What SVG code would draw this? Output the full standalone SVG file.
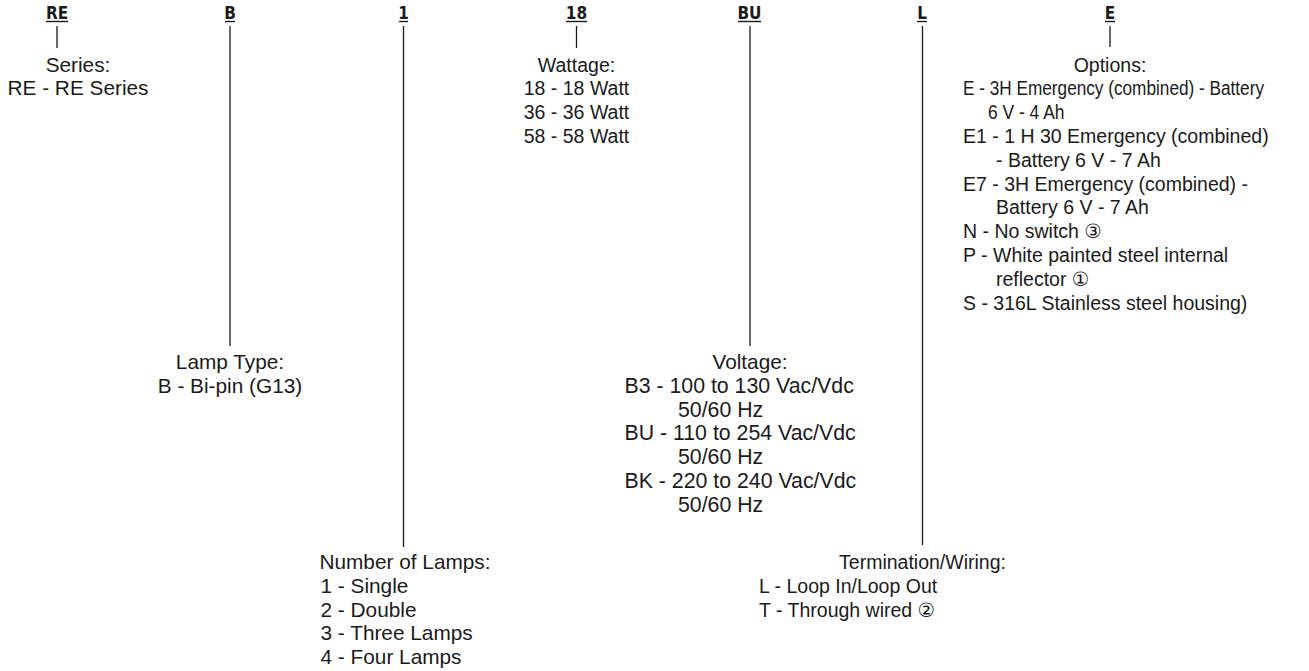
<svg xmlns="http://www.w3.org/2000/svg" width="1309" height="671" viewBox="0 0 1309 671">
<style>
.code{font-family:"Liberation Sans Narrow","DejaVu Sans Condensed","Liberation Sans",sans-serif;font-weight:bold;font-size:17px;fill:#1a1a1a;text-anchor:middle}
.t{font-family:"Liberation Sans","DejaVu Sans",sans-serif;font-size:19.5px;fill:#1a1a1a}
.b{font-size:20.8px}
.v{font-size:21.3px}
.c{text-anchor:middle}
.ul{stroke:#1a1a1a;stroke-width:1.4}
.ln{stroke:#1a1a1a;stroke-width:1.3;fill:none}
</style>
<rect width="1309" height="671" fill="#ffffff"/>
<g id="codes">
<text class="code" x="57" y="19">RE</text><line class="ul" x1="46" y1="21.5" x2="68" y2="21.5"/>
<text class="code" x="230" y="19">B</text><line class="ul" x1="225" y1="21.5" x2="235" y2="21.5"/>
<text class="code" x="403.5" y="19">1</text><line class="ul" x1="399" y1="21.5" x2="408" y2="21.5"/>
<text class="code" x="576.5" y="19">18</text><line class="ul" x1="566" y1="21.5" x2="587" y2="21.5"/>
<text class="code" x="749.5" y="19">BU</text><line class="ul" x1="738" y1="21.5" x2="761" y2="21.5"/>
<text class="code" x="922" y="19">L</text><line class="ul" x1="917" y1="21.5" x2="927" y2="21.5"/>
<text class="code" x="1110" y="19">E</text><line class="ul" x1="1105" y1="21.5" x2="1115" y2="21.5"/>
</g>
<g id="connectors">
<line class="ln" x1="57" y1="26" x2="57" y2="48"/>
<line class="ln" x1="230" y1="26" x2="230" y2="346"/>
<line class="ln" x1="403.5" y1="26" x2="403.5" y2="547"/>
<line class="ln" x1="576.5" y1="26" x2="576.5" y2="48"/>
<line class="ln" x1="750" y1="26" x2="750" y2="346"/>
<line class="ln" x1="922.5" y1="26" x2="922.5" y2="545"/>
<line class="ln" x1="1110" y1="26" x2="1110" y2="47"/>
</g>
<g id="series">
<text class="t b c" x="78" y="71.5">Series:</text>
<text class="t b c" x="78" y="95.3">RE - RE Series</text>
</g>
<g id="lamp-type">
<text class="t b c" x="230" y="369.3">Lamp Type:</text>
<text class="t b c" x="230" y="393">B - Bi-pin (G13)</text>
</g>
<g id="number-of-lamps">
<text class="t b c" x="405" y="569">Number of Lamps:</text>
<text class="t b" x="320.5" y="592.7">1 - Single</text>
<text class="t b" x="320.5" y="616.5">2 - Double</text>
<text class="t b" x="320.5" y="640.2">3 - Three Lamps</text>
<text class="t b" x="320.5" y="664">4 - Four Lamps</text>
</g>
<g id="wattage">
<text class="t c" x="576.5" y="71.5">Wattage:</text>
<text class="t c" x="576.5" y="95.3">18 - 18 Watt</text>
<text class="t c" x="576.5" y="119">36 - 36 Watt</text>
<text class="t c" x="576.5" y="142.7">58 - 58 Watt</text>
</g>
<g id="voltage">
<text class="t b c" x="750" y="369.3">Voltage:</text>
<text class="t v" x="624.5" y="393">B3 - 100 to 130 Vac/Vdc</text>
<text class="t v" x="678" y="416.7">50/60 Hz</text>
<text class="t v" x="624.5" y="440.4">BU - 110 to 254 Vac/Vdc</text>
<text class="t v" x="678" y="464.1">50/60 Hz</text>
<text class="t v" x="624.5" y="487.8">BK - 220 to 240 Vac/Vdc</text>
<text class="t v" x="678" y="511.5">50/60 Hz</text>
</g>
<g id="termination">
<text class="t c" x="922.5" y="568.5">Termination/Wiring:</text>
<text class="t" x="759" y="592.5">L - Loop In/Loop Out</text>
<text class="t" x="759" y="616.5">T - Through wired ②</text>
</g>
<g id="options">
<text class="t c" x="1110" y="71.5">Options:</text>
<text class="t" x="963" y="95.3" textLength="301" lengthAdjust="spacingAndGlyphs">E - 3H Emergency (combined) - Battery</text>
<text class="t" x="988" y="119.1" textLength="76.5" lengthAdjust="spacingAndGlyphs">6 V - 4 Ah</text>
<text class="t" x="963" y="142.9">E1 - 1 H 30 Emergency (combined)</text>
<text class="t" x="996" y="166.7">- Battery 6 V - 7 Ah</text>
<text class="t" x="963" y="190.5">E7 - 3H Emergency (combined) -</text>
<text class="t" x="996" y="214.3">Battery 6 V - 7 Ah</text>
<text class="t" x="963" y="238.1">N - No switch ③</text>
<text class="t" x="963" y="261.9">P - White painted steel internal</text>
<text class="t" x="996" y="285.7">reflector ①</text>
<text class="t" x="963" y="309.5">S - 316L Stainless steel housing)</text>
</g>
</svg>
